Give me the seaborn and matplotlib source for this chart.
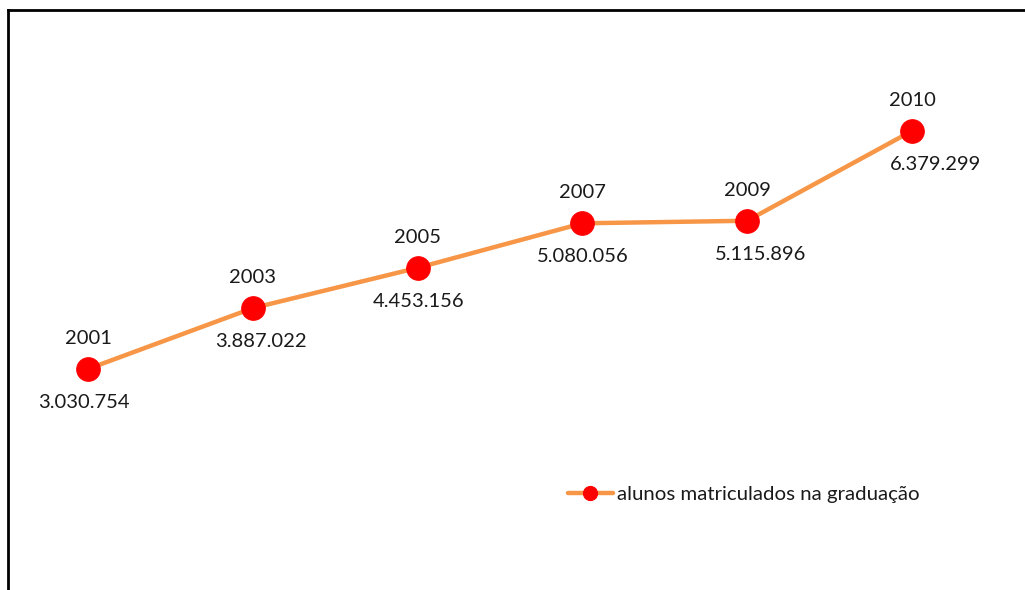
import matplotlib
matplotlib.use("Agg")
import matplotlib.pyplot as plt
import pandas as pd
import seaborn as sns

anos = ["2001", "2003", "2005", "2007", "2009", "2010"]
alunos = [3030754, 3887022, 4453156, 5080056, 5115896, 6379299]
rotulos = ["3.030.754", "3.887.022", "4.453.156", "5.080.056", "5.115.896", "6.379.299"]
serie = "alunos matriculados na graduação"

sns.set_theme(style="white")
plt.rcParams["font.family"] = ["Lato", "DejaVu Sans"]

LARANJA = "#F79646"
VERMELHO = "#FF0000"
TEXTO = "#1a1a1a"

df = pd.DataFrame({"idx": range(len(anos)), "alunos": alunos})

fig = plt.figure(figsize=(10.25, 5.9), dpi=100)
ax = fig.add_axes([8 / 1025, 0, 1017 / 1025, 580 / 590])

sns.lineplot(data=df, x="idx", y="alunos", ax=ax, color=LARANJA, linewidth=3.2,
             marker="o", markersize=17, markerfacecolor=VERMELHO,
             markeredgecolor=VERMELHO, label=serie)

# little nudges so labels sit like the original
dx_val = [-3, 6, 1, 0, 10, 17]
for i, (ano, rot) in enumerate(zip(anos, rotulos)):
    ax.annotate(ano, (i, alunos[i]), xytext=(0, 22), textcoords="offset points",
                ha="center", va="center", fontsize=14.5, color=TEXTO)
    ax.annotate(rot, (i, alunos[i]), xytext=(dx_val[i], -24), textcoords="offset points",
                ha="center", va="center", fontsize=14.5, color=TEXTO)

ax.set_xlim(-0.4854, 5.686)
ax.set_ylim(-78800, 8081000)
ax.set_xticks([])
ax.set_yticks([])
ax.set_xlabel("")
ax.set_ylabel("")

for side in ["right", "bottom"]:
    ax.spines[side].set_visible(False)
for side in ["left", "top"]:
    ax.spines[side].set_color("black")
    ax.spines[side].set_linewidth(2)

leg = ax.legend(loc="center left", bbox_to_anchor=(568 / 1025, 1 - 494 / 590),
                bbox_transform=fig.transFigure, frameon=False, fontsize=14.7,
                handlelength=2.2, handletextpad=0.2, borderpad=0, borderaxespad=0,
                markerscale=0.6)
for t in leg.get_texts():
    t.set_color(TEXTO)

fig.savefig("out.png", dpi=100)
